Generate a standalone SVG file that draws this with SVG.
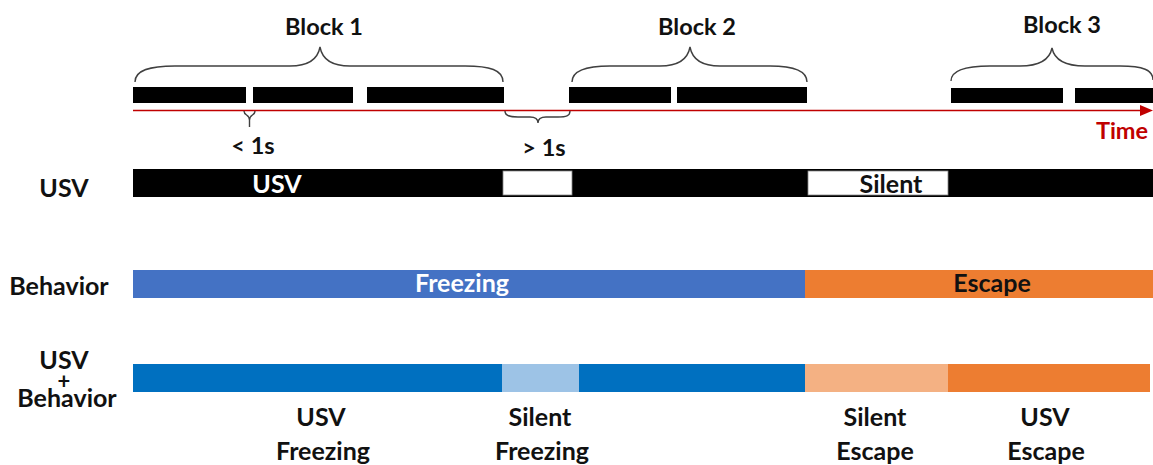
<svg xmlns="http://www.w3.org/2000/svg" width="1153" height="465" viewBox="0 0 1153 465">
<style>
text{font-family:Lato,"Liberation Sans",Arial,sans-serif;font-weight:bold;text-anchor:middle}
.lbl{font-size:25px;fill:#111}
.top{font-size:23.5px;fill:#111}
.brace{fill:none;stroke:#404040;stroke-width:1.4}
.seg{fill:#000}
</style>
<rect width="1153" height="465" fill="#fff"/>
<g id="timeline">
<line x1="133" y1="110.5" x2="1143" y2="110.5" stroke="#c00000" stroke-width="1.6"/>
<polygon points="1140,105 1153,110.5 1140,116" fill="#c00000"/>
<text x="1122" y="139" class="top" style="fill:#c00000">Time</text>
</g>
<g id="block1">
<rect class="seg" x="133" y="87" width="113" height="16"/>
<rect class="seg" x="253" y="87" width="100" height="16"/>
<rect class="seg" x="367" y="87" width="137" height="16"/>
<path class="brace" d="M135,82 C135,70 150,66 175,66 L290,66 C310,66 318,58 320,47 C322,58 330,66 350,66 L465,66 C490,66 503,70 503,82"/>
<text x="324" y="35" class="top">Block 1</text>
</g>
<g id="block2">
<rect class="seg" x="569" y="87" width="102" height="16"/>
<rect class="seg" x="677" y="87" width="130" height="16"/>
<path class="brace" d="M572,82 C572,70 587,66 610,66 L660,66 C680,66 688,58 690,47 C692,58 700,66 720,66 L770,66 C793,66 807,70 807,82"/>
<text x="697" y="35" class="top">Block 2</text>
</g>
<g id="block3">
<rect class="seg" x="951" y="88" width="112" height="15"/>
<rect class="seg" x="1075" y="88" width="78" height="15"/>
<path class="brace" d="M951,81 C951,70 965,66 990,66 L1020,66 C1042,66 1050,58 1052,48 C1054,58 1062,66 1085,66 L1120,66 C1143,66 1153,70 1153,80"/>
<text x="1062" y="33" class="top">Block 3</text>
</g>
<g id="gaps">
<path class="brace" d="M244,111 C244,116 249.5,114 249.5,120 C249.5,114 255,116 255,111 M249.5,120 L249.5,127"/>
<text x="253" y="154" class="top">&lt; 1s</text>
<path class="brace" d="M505,111 C505,116 510,117 518,117 L530,117 C535,117 538,119 538,123 C538,119 541,117 546,117 L558,117 C566,117 570,116 570,111"/>
<text x="544" y="156" class="top">&gt; 1s</text>
</g>
<g id="usv-row">
<text x="64" y="197" class="lbl">USV</text>
<rect x="133" y="169" width="1020" height="28" fill="#000"/>
<rect x="503" y="171" width="69" height="24" fill="#fff" stroke="#888" stroke-width="0.8"/>
<rect x="808" y="171" width="140" height="24" fill="#fff" stroke="#888" stroke-width="0.8"/>
<text x="277" y="193" class="lbl" style="fill:#fff">USV</text>
<text x="891" y="193" class="lbl">Silent</text>
</g>
<g id="behavior-row">
<text x="59" y="295" class="lbl">Behavior</text>
<rect x="133" y="270" width="672" height="28" fill="#4472c4"/>
<rect x="805" y="270" width="348" height="28" fill="#ed7d31"/>
<text x="462" y="292" class="lbl" style="fill:#fff">Freezing</text>
<text x="992" y="292" class="lbl">Escape</text>
</g>
<g id="combined-row">
<text x="64" y="369" class="lbl">USV</text>
<text x="64" y="389" style="font-size:22px;fill:#111">+</text>
<text x="67" y="407" class="lbl">Behavior</text>
<rect x="133" y="364" width="369" height="28" fill="#0070c0"/>
<rect x="502" y="364" width="77" height="28" fill="#9dc3e6"/>
<rect x="579" y="364" width="226" height="28" fill="#0070c0"/>
<rect x="805" y="364" width="143" height="28" fill="#f4b183"/>
<rect x="948" y="364" width="202" height="28" fill="#ed7d31"/>
<text x="321" y="426" class="lbl">USV</text>
<text x="323" y="460" class="lbl">Freezing</text>
<text x="540" y="426" class="lbl">Silent</text>
<text x="542" y="460" class="lbl">Freezing</text>
<text x="875" y="426" class="lbl">Silent</text>
<text x="875" y="460" class="lbl">Escape</text>
<text x="1045" y="426" class="lbl">USV</text>
<text x="1046" y="460" class="lbl">Escape</text>
</g>
</svg>
